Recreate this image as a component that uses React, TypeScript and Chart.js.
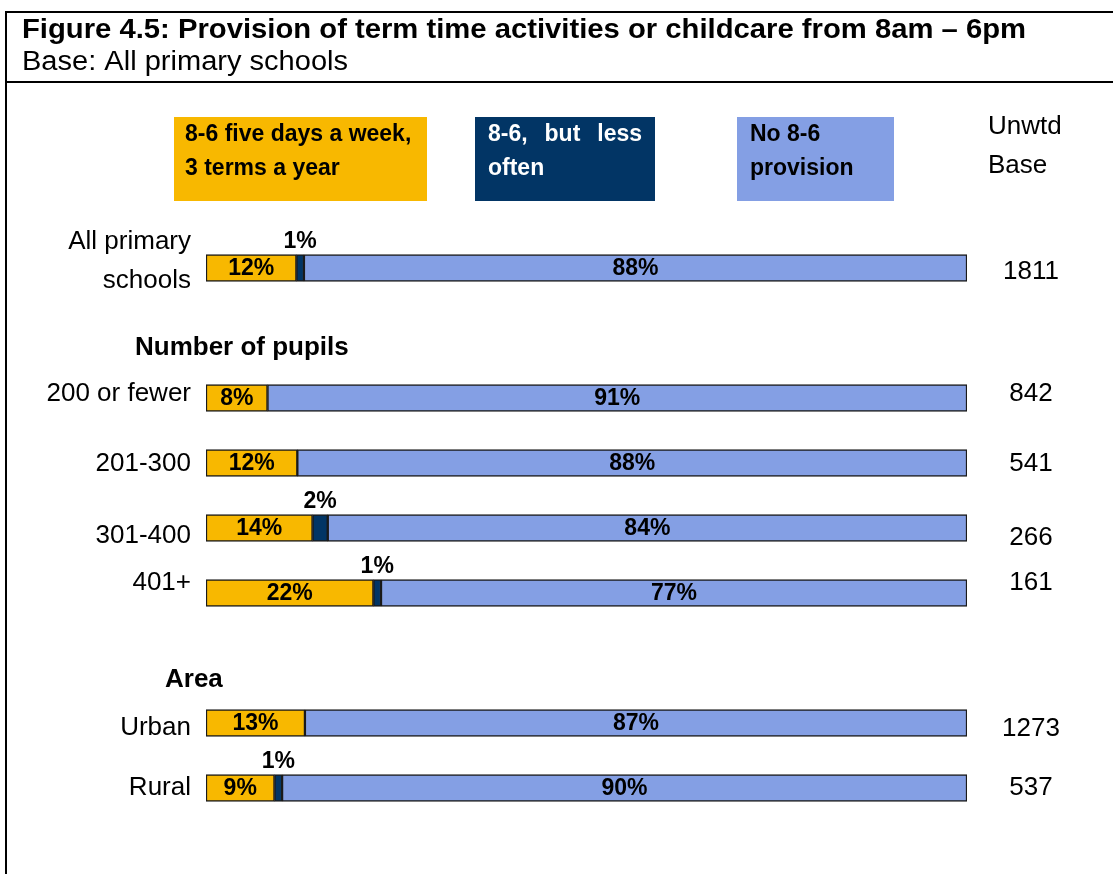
import React, { useEffect, useRef } from "react";
import { Chart, registerables } from "chart.js";

Chart.register(...registerables);

// ---------- data ----------
const categories: (string | string[])[] = [
  ["All primary", "schools"],
  "",
  "200 or fewer",
  "201-300",
  "301-400",
  "401+",
  "",
  "Urban",
  "Rural",
];
const sectionHeaders = ["", "Number of pupils", "", "", "", "", "Area", "", ""];
const fullWeek = [12, null, 8, 12, 14, 22, null, 13, 9];
const lessOften = [1, null, 0, 0, 2, 1, null, 0, 1];
const noProvision = [88, null, 91, 88, 84, 77, null, 87, 90];
const unweightedBase = [1811, null, 842, 541, 266, 161, null, 1273, 537];

const seriesNames = [
  "8-6 five days a week, 3 terms a year",
  "8-6, but less often",
  "No 8-6 provision",
];
const legendLines = [
  ["8-6 five days a week,", "3 terms a year"],
  ["8-6, but less", "often"],
  ["No 8-6", "provision"],
];
const baseHeader = ["Unwtd", "Base"];
const titleText = "Figure 4.5: Provision of term time activities or childcare from 8am \u2013 6pm";
const subtitleText = "Base: All primary schools";

// ---------- style ----------
const W = 1113;
const H = 874;
const FONT = "'Liberation Sans', Arial, Helvetica, sans-serif";
const colors = ["#F8B800", "#023565", "#849FE4"];
const legendTextColors = ["#000000", "#FFFFFF", "#000000"];
const legendBoxes = [
  { x: 174, w: 253, pad: 11, justify: false },
  { x: 475, w: 180, pad: 13, justify: true },
  { x: 737, w: 157, pad: 13, justify: false },
];
// small vertical nudges of row texts (labels & base numbers), as in the original layout
const rowTextNudge = [0, 0, -4, 1, 8, -10, 0, 5, 0];
const baseTextNudge = [4, 0, 0, 0, 2, 0, 0, 1, 0];

const rawSeries = [fullWeek, lessOften, noProvision];
const rowTotals = categories.map((_, i) =>
  rawSeries.reduce((s, arr) => s + ((arr[i] as number) || 0), 0)
);
const share = (arr: (number | null)[]) =>
  arr.map((v, i) => (v === null || rowTotals[i] === 0 ? null : ((v as number) / rowTotals[i]) * 100));

function txt(
  ctx: CanvasRenderingContext2D,
  s: string,
  x: number,
  y: number,
  font: string,
  color: string,
  align: CanvasTextAlign = "left",
  fitWidth = 0
) {
  ctx.save();
  ctx.font = font;
  ctx.fillStyle = color;
  ctx.textBaseline = "middle";
  ctx.textAlign = align;
  ctx.translate(x, y);
  if (fitWidth > 0) {
    const w = ctx.measureText(s).width;
    ctx.scale(fitWidth / w, 1);
  }
  ctx.fillText(s, 0, 0);
  ctx.restore();
}

const decorPlugin = {
  id: "decor",
  beforeDraw(chart: any) {
    const ctx: CanvasRenderingContext2D = chart.ctx;
    ctx.save();
    ctx.fillStyle = "#FFFFFF";
    ctx.fillRect(0, 0, W, H);
    ctx.restore();
  },
  afterDraw(chart: any) {
    const ctx: CanvasRenderingContext2D = chart.ctx;
    const yScale = chart.scales.y;

    // frame
    ctx.save();
    ctx.strokeStyle = "#000";
    ctx.lineWidth = 2;
    ctx.beginPath();
    ctx.moveTo(6, 11);
    ctx.lineTo(6, H);
    ctx.moveTo(5, 12);
    ctx.lineTo(W, 12);
    ctx.moveTo(5, 82);
    ctx.lineTo(W, 82);
    ctx.stroke();
    ctx.restore();

    // title
    txt(ctx, titleText, 22, 31, `bold 27px ${FONT}`, "#000", "left", 1004);
    txt(ctx, subtitleText, 22, 63, `27px ${FONT}`, "#000", "left", 326);

    // legend boxes
    legendBoxes.forEach((b, di) => {
      ctx.save();
      ctx.fillStyle = colors[di];
      ctx.fillRect(b.x, 117, b.w, 84);
      ctx.restore();
      const font = `bold 23px ${FONT}`;
      legendLines[di].forEach((line, li) => {
        const y = li === 0 ? 135 : 169;
        const x0 = b.x + b.pad;
        if (b.justify && li === 0) {
          ctx.save();
          ctx.font = font;
          const words = line.split(" ");
          const widths = words.map((w) => ctx.measureText(w).width);
          const total = widths.reduce((a, c) => a + c, 0);
          const right = b.x + b.w - b.pad;
          const gap = (right - x0 - total) / (words.length - 1);
          ctx.restore();
          let x = x0;
          words.forEach((w, wi) => {
            txt(ctx, w, x, y, font, legendTextColors[di]);
            x += widths[wi] + gap;
          });
        } else {
          txt(ctx, line, x0, y, font, legendTextColors[di]);
        }
      });
    });

    // base header
    txt(ctx, baseHeader[0], 988, 127, `26px ${FONT}`, "#000");
    txt(ctx, baseHeader[1], 988, 166, `26px ${FONT}`, "#000");

    // category labels, section headers, base values
    categories.forEach((c, i) => {
      const yc = yScale.getPixelForValue(i);
      const ny = yc + rowTextNudge[i];
      if (Array.isArray(c)) {
        txt(ctx, c[0], 191, yc - 26, `26px ${FONT}`, "#000", "right");
        txt(ctx, c[1], 191, yc + 13, `26px ${FONT}`, "#000", "right");
      } else if (c) {
        txt(ctx, c, 191, ny, `26px ${FONT}`, "#000", "right");
      }
      if (sectionHeaders[i]) {
        const hx = i === 1 ? 135 : 165;
        const hy = i === 1 ? yc + 15 : yc + 22;
        txt(ctx, sectionHeaders[i], hx, hy, `bold 26px ${FONT}`, "#000");
      }
      if (unweightedBase[i] !== null) {
        txt(ctx, String(unweightedBase[i]), 1031, ny + baseTextNudge[i], `26px ${FONT}`, "#000", "center");
      }
    });

    // value labels
    chart.data.datasets.forEach((ds: any, di: number) => {
      const meta = chart.getDatasetMeta(di);
      meta.data.forEach((bar: any, i: number) => {
        const raw = rawSeries[di][i];
        if (raw === null || raw === 0) return;
        const cx = (bar.x + bar.base) / 2;
        const font = `bold 23px ${FONT}`;
        if (di === 1) {
          const top = bar.y - bar.height / 2;
          txt(ctx, `${raw}%`, cx, top - 13, font, "#000", "center");
        } else {
          txt(ctx, `${raw}%`, cx, bar.y + 1, font, "#000", "center");
        }
      });
    });
  },
};

export default function App() {
  const ref = useRef<HTMLCanvasElement | null>(null);
  useEffect(() => {
    if (!ref.current) return;
    const chart = new Chart(ref.current, {
      type: "bar",
      data: {
        labels: categories.map((c) => (Array.isArray(c) ? c.join(" ") : c)),
        datasets: rawSeries.map((arr, di) => ({
          label: seriesNames[di],
          data: share(arr),
          backgroundColor: colors[di],
          borderColor: "#1A1A1A",
          borderWidth: 1.5,
          borderSkipped: false,
          barThickness: 27,
        })),
      },
      options: {
        indexAxis: "y",
        responsive: false,
        animation: false,
        layout: {
          padding: { left: 206, right: W - 967, top: 235.5, bottom: H - 820.5 },
        },
        scales: {
          x: { stacked: true, min: 0, max: 100, display: false },
          y: { stacked: true, display: false },
        },
        plugins: {
          legend: { display: false },
          tooltip: { enabled: false },
          title: { display: false },
        },
      },
      plugins: [decorPlugin],
    } as any);
    return () => chart.destroy();
  }, []);
  return (
    <div style={{ position: "absolute", left: 0, top: 0, width: W, height: H, background: "#fff" }}>
      <canvas ref={ref} width={W} height={H} style={{ width: W, height: H, display: "block" }} />
    </div>
  );
}
